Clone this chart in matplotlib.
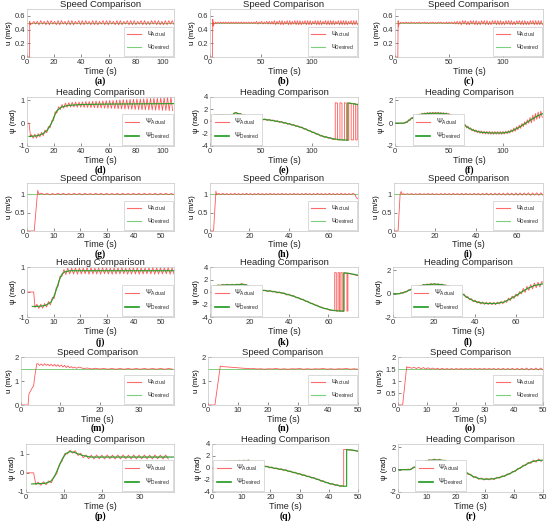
import numpy as np
import matplotlib.pyplot as plt
from matplotlib.lines import Line2D
from matplotlib.ticker import FormatStrFormatter

plt.rcParams['font.family'] = ['Liberation Sans', 'DejaVu Sans']
plt.rcParams['mathtext.fontset'] = 'custom'
plt.rcParams['mathtext.rm'] = 'Liberation Sans'
plt.rcParams['axes.unicode_minus'] = False

W, H = 550, 522
RED = '#ff3a3a'
GREEN = '#1e9a1e'
LGREEN = '#7ccf7c'


def ripple(t0, t1, first, second):
    # alternate peak / trough readings between t0 and t1
    n = min(len(first), len(second))
    y = np.empty(2 * n)
    y[0::2] = first[:n]
    y[1::2] = second[:n]
    return np.linspace(t0, t1, 2 * n), y


def join(*parts):
    t = np.concatenate([np.asarray(p[0], float) for p in parts])
    y = np.concatenate([np.asarray(p[1], float) for p in parts])
    return t, y


# ---------------- row 1 : speed ----------------
a_t = [0, 1.9, 2.0, 2.4, 2.9, 3.6, 4.3]
a_u = [0, 0, 0.52, 0.47, 0.49, 0.48, 0.50]
a_hi = [0.52, 0.52, 0.53, 0.52, 0.53, 0.53, 0.52, 0.53, 0.53, 0.52,
        0.53, 0.53, 0.52, 0.53, 0.53, 0.53, 0.52, 0.53, 0.53, 0.52,
        0.53, 0.53, 0.53, 0.52, 0.53, 0.53, 0.52, 0.53, 0.53, 0.53,
        0.52, 0.53, 0.53, 0.52, 0.53, 0.53, 0.53, 0.52, 0.53, 0.53, 0.53]
a_lo = [0.48, 0.47, 0.48, 0.47, 0.47, 0.48, 0.47, 0.47, 0.48, 0.47,
        0.47, 0.47, 0.48, 0.47, 0.47, 0.48, 0.47, 0.47, 0.47, 0.48,
        0.47, 0.47, 0.48, 0.47, 0.47, 0.47, 0.48, 0.47, 0.47, 0.47,
        0.48, 0.47, 0.47, 0.47, 0.48, 0.47, 0.47, 0.47, 0.47, 0.48, 0.47]
a_td = [0, 108]
a_ud = [0.5, 0.5]

b_t = [0, 2.4, 2.7, 3.1, 3.5, 4.2, 5.0]
b_u = [0, 0, 0.55, 0.45, 0.50, 0.48, 0.49]
b_hi = [0.51, 0.51, 0.51, 0.51, 0.51, 0.51, 0.51, 0.51, 0.51, 0.51, 0.51,
        0.51, 0.51, 0.51, 0.51, 0.51, 0.52, 0.51, 0.52, 0.51, 0.52, 0.52,
        0.52, 0.53, 0.52, 0.53, 0.53, 0.52, 0.53, 0.53, 0.52, 0.53, 0.53,
        0.53, 0.52, 0.53, 0.53, 0.53, 0.52, 0.53, 0.53, 0.53, 0.52, 0.53,
        0.53, 0.53, 0.53, 0.52, 0.53, 0.53, 0.53, 0.53, 0.52, 0.53, 0.53, 0.53]
b_lo = [0.49, 0.49, 0.49, 0.49, 0.49, 0.49, 0.49, 0.49, 0.49, 0.49, 0.49,
        0.49, 0.49, 0.49, 0.49, 0.49, 0.48, 0.49, 0.48, 0.49, 0.48, 0.48,
        0.48, 0.47, 0.48, 0.47, 0.47, 0.48, 0.47, 0.47, 0.48, 0.47, 0.47,
        0.47, 0.48, 0.47, 0.47, 0.47, 0.48, 0.47, 0.47, 0.47, 0.48, 0.47,
        0.47, 0.47, 0.47, 0.48, 0.47, 0.47, 0.47, 0.47, 0.48, 0.47, 0.47, 0.47]
b_td = [0, 145]
b_ud = [0.5, 0.5]

c_t = [0, 2.6, 2.9, 3.2, 3.6, 4.3]
c_u = [0, 0, 0.53, 0.44, 0.49, 0.48]
c_hi = [0.505, 0.505, 0.51, 0.505, 0.51, 0.505, 0.505, 0.51, 0.505, 0.51, 0.505,
        0.505, 0.51, 0.505, 0.51, 0.51, 0.505, 0.51, 0.51, 0.51, 0.515, 0.52,
        0.52, 0.53, 0.53, 0.52, 0.53, 0.53, 0.53, 0.52, 0.53, 0.53, 0.53,
        0.52, 0.53, 0.53, 0.53, 0.53, 0.52, 0.53, 0.53, 0.53, 0.52, 0.53,
        0.53, 0.53, 0.53, 0.52, 0.53, 0.53, 0.53, 0.53, 0.53]
c_lo = [0.495, 0.49, 0.495, 0.49, 0.495, 0.49, 0.495, 0.49, 0.495, 0.49, 0.49,
        0.495, 0.49, 0.49, 0.495, 0.49, 0.49, 0.485, 0.49, 0.485, 0.48, 0.48,
        0.47, 0.48, 0.47, 0.47, 0.48, 0.47, 0.47, 0.47, 0.48, 0.47, 0.47,
        0.47, 0.48, 0.47, 0.47, 0.47, 0.47, 0.48, 0.47, 0.47, 0.47, 0.48,
        0.47, 0.47, 0.47, 0.47, 0.48, 0.47, 0.47, 0.47, 0.47]
c_td = [0, 137]
c_ud = [0.5, 0.5]

# ---------------- row 2 : heading ----------------
d_t = [0, 1.5, 2.6]
d_y = [0, 0, -0.6]
d_hi = [-0.5, -0.48, -0.46, -0.4, -0.3, -0.15, 0.1, 0.5, 0.72, 0.82, 0.88, 0.9, 0.92,
        0.93, 0.93, 0.94, 0.95, 0.95, 0.96, 0.97, 0.97, 0.98, 0.99, 1.0, 1.0, 1.01,
        1.02, 1.03, 1.03, 1.04, 1.05, 1.06, 1.06, 1.07, 1.08, 1.09, 1.1, 1.1, 1.11,
        1.12, 1.13, 1.15]
d_lo = [-0.66, -0.65, -0.6, -0.55, -0.42, -0.2, 0.12, 0.45, 0.6, 0.66, 0.7, 0.71, 0.71,
        0.7, 0.7, 0.69, 0.69, 0.68, 0.68, 0.67, 0.67, 0.66, 0.65, 0.65, 0.64, 0.63,
        0.63, 0.62, 0.62, 0.61, 0.6, 0.6, 0.59, 0.59, 0.58, 0.58, 0.57, 0.57, 0.56,
        0.56, 0.55, 0.55]
d_td = [1.5, 8, 12, 15, 18, 20, 22, 25, 30, 40, 60, 108]
d_yd = [-0.58, -0.55, -0.45, -0.3, 0.0, 0.3, 0.55, 0.7, 0.78, 0.82, 0.84, 0.86]

e_t = [0, 1.0, 4.0, 8, 14, 20, 22.5, 24]
e_y = [0, 0, 1.0, 1.1, 1.05, 1.0, 1.1, 1.38]
e_hi = [1.48, 1.32, 1.12, 0.92, 0.76, 0.64, 0.52, 0.44, 0.36, 0.26, 0.14, 0.02,
        -0.14, -0.3, -0.48, -0.68, -0.88, -1.16, -1.44, -1.72, -2.0, -2.28, -2.44, -2.6]
e_lo = [1.16, 0.98, 0.78, 0.58, 0.46, 0.34, 0.24, 0.16, 0.08, -0.04, -0.16, -0.3,
        -0.46, -0.62, -0.82, -1.02, -1.26, -1.54, -1.82, -2.1, -2.38, -2.6, -2.76, -2.92]
e_tf = [121.0, 122.7, 122.7, 125.0, 125.0, 127.3, 127.3, 129.3, 129.3, 131.7, 131.7, 133.7,
        133.7, 136.0, 136.0, 138.3, 138.3, 140.7, 140.7, 142.7, 142.7, 144.3, 144.3, 145.0]
e_yf = [-2.95, -2.95, 3.05, 3.0, -3.0, -3.0, 3.05, 3.0, -3.0, -3.02, 3.05, 3.0,
        -3.05, -3.05, 3.0, 2.95, -3.0, -3.0, 2.95, 2.9, -3.0, -3.0, 2.85, 2.8]
e_td = [2, 5, 22, 23.5, 25, 30, 40, 50, 60, 70, 80, 90, 100, 110, 120, 128, 135, 135, 140, 145]
e_yd = [0.9, 1.05, 1.0, 1.35, 1.4, 1.2, 0.7, 0.4, 0.2, -0.1, -0.5, -1.0, -1.7, -2.4, -2.8,
        -3.0, -3.05, 3.05, 2.9, 2.75]

f_t = [0, 8.5]
f_y = [0, 0.02]
f_hi = [0.13, 0.30, 0.48, 0.61, 0.73, 0.81, 0.88, 0.91, 0.94, 0.95, 0.96, 0.96, 0.96,
        0.94, 0.93, 0.91, 0.86, 0.77, 0.61, 0.44, 0.25, 0.06, -0.11, -0.26, -0.4, -0.52,
        -0.59, -0.66, -0.68, -0.7, -0.71, -0.72, -0.73, -0.73, -0.73, -0.73, -0.72, -0.7,
        -0.66, -0.57, -0.42, -0.3, -0.17, -0.02, 0.13, 0.3, 0.5, 0.7, 0.85, 0.98, 1.06]
f_lo = [0.05, 0.23, 0.39, 0.51, 0.61, 0.68, 0.74, 0.77, 0.79, 0.8, 0.8, 0.8, 0.79,
        0.78, 0.76, 0.72, 0.62, 0.5, 0.33, 0.14, -0.04, -0.21, -0.41, -0.53, -0.67, -0.76,
        -0.83, -0.88, -0.93, -0.95, -0.96, -0.97, -0.97, -0.97, -0.97, -0.97, -0.95, -0.92,
        -0.86, -0.77, -0.72, -0.59, -0.45, -0.31, -0.15, 0.0, 0.03, 0.18, 0.34, 0.42, 0.51]
f_td = [0, 8, 10, 12, 15, 18, 20, 25, 30, 40, 48, 52, 56, 60, 64, 68, 72, 76, 80, 90,
        100, 105, 110, 115, 120, 125, 130, 137]
f_yd = [0, 0, 0.05, 0.18, 0.4, 0.56, 0.65, 0.8, 0.86, 0.88, 0.82, 0.7, 0.45, 0.15, -0.15,
        -0.4, -0.6, -0.72, -0.8, -0.86, -0.85, -0.78, -0.6, -0.35, -0.05, 0.25, 0.55, 0.85]

# ---------------- row 3 : speed ----------------
g_t = [0, 2.7, 4.0, 4.5, 5.0]
g_u = [0, 0, 1.1, 0.99, 1.02]
g_hi = [1.02, 1.02, 1.015, 1.02, 1.02, 1.015, 1.02, 1.02, 1.02, 1.015, 1.02, 1.02, 1.02,
        1.015, 1.02, 1.02, 1.015, 1.02, 1.02, 1.02, 1.015, 1.02, 1.02, 1.02, 1.015]
g_lo = [0.985, 0.98, 0.985, 0.985, 0.98, 0.985, 0.985, 0.98, 0.985, 0.985, 0.985, 0.98,
        0.985, 0.985, 0.98, 0.985, 0.985, 0.985, 0.98, 0.985, 0.985, 0.98, 0.985, 0.985, 0.985]
g_td = [0, 55]
g_ud = [1.0, 1.0]

h_t = [0, 1.8, 3.0, 3.4, 4.0]
h_u = [0, 0, 1.08, 0.98, 1.01]
h_hi = [1.015, 1.02, 1.015, 1.015, 1.02, 1.015, 1.015, 1.02, 1.015, 1.015, 1.02, 1.015,
        1.015, 1.02, 1.015, 1.015, 1.02, 1.015, 1.015, 1.02, 1.015, 1.015, 1.02, 1.015,
        1.015, 1.02, 1.015, 1.015, 1.02, 1.015, 1.015, 1.02, 1.015, 1.015, 1.02]
h_lo = [0.985, 0.985, 0.98, 0.985, 0.985, 0.98, 0.985, 0.985, 0.98, 0.985, 0.985, 0.98,
        0.985, 0.985, 0.98, 0.985, 0.985, 0.98, 0.985, 0.985, 0.98, 0.985, 0.985, 0.98,
        0.985, 0.985, 0.98, 0.985, 0.985, 0.98, 0.985, 0.985, 0.98, 0.985, 0.985]
h_t2 = [74.2, 75]
h_u2 = [0.9, 0.87]
h_td = [0, 75]
h_ud = [1.0, 1.0]

i_t = [0, 2.0, 3.0, 3.5, 4.0]
i_u = [0, 0, 1.0, 1.07, 0.99]
i_hi = [1.01, 1.01, 1.015, 1.01, 1.015, 1.01, 1.015, 1.015, 1.01, 1.015, 1.015, 1.015,
        1.02, 1.015, 1.02, 1.02, 1.015, 1.02, 1.02, 1.02, 1.025, 1.02, 1.025, 1.025,
        1.025, 1.03, 1.025, 1.03, 1.03, 1.03, 1.035, 1.03, 1.035, 1.035]
i_lo = [0.99, 0.99, 0.985, 0.99, 0.985, 0.99, 0.985, 0.985, 0.985, 0.985, 0.985, 0.98,
        0.985, 0.98, 0.98, 0.98, 0.98, 0.98, 0.975, 0.98, 0.975, 0.975, 0.975, 0.975,
        0.97, 0.975, 0.97, 0.97, 0.97, 0.97, 0.965, 0.97, 0.965, 0.965]
i_td = [0, 73]
i_ud = [1.0, 1.0]

# ---------------- row 4 : heading ----------------
j_t = [0, 2.5, 3.0]
j_y = [0, 0, -0.62]
j_hi = [-0.49, -0.49, -0.46, -0.38, -0.22, 0.17, 0.63, 0.9, 0.96,
        0.96, 0.97, 0.97, 0.96, 0.98, 0.97, 0.96, 0.97, 0.98, 0.97, 0.96, 0.97, 0.97, 0.98,
        0.96, 0.97, 0.97, 0.98, 0.97, 0.96, 0.97, 0.98, 0.97, 0.97, 0.96, 0.98, 0.97]
j_lo = [-0.66, -0.65, -0.6, -0.52, -0.25, 0.24, 0.63, 0.7, 0.72,
        0.72, 0.71, 0.72, 0.73, 0.71, 0.72, 0.72, 0.71, 0.73, 0.72, 0.71, 0.72, 0.72, 0.73,
        0.71, 0.72, 0.72, 0.71, 0.72, 0.73, 0.72, 0.71, 0.72, 0.72, 0.73, 0.71, 0.72]
j_td = [2, 5, 7, 8, 9, 10, 11, 12, 13, 14, 16, 20, 55]
j_yd = [-0.58, -0.57, -0.53, -0.47, -0.4, -0.2, 0.1, 0.45, 0.7, 0.8, 0.85, 0.85, 0.85]

k_t = [0, 2.0, 3.5]
k_y = [0, 0, 1.0]
k_hi = [1.15, 1.22, 1.25, 1.25, 1.28, 1.35, 1.2, 0.88, 0.62, 0.43, 0.3, 0.24, 0.14, 0.02,
        -0.14, -0.33, -0.58, -0.85, -1.15, -1.47, -1.81, -2.12, -2.43, -2.62]
k_lo = [0.98, 1.03, 1.05, 1.05, 1.09, 1.1, 0.92, 0.6, 0.39, 0.18, 0.06, -0.01, -0.18, -0.24,
        -0.5, -0.65, -0.93, -1.2, -1.5, -1.8, -2.1, -2.4, -2.68, -2.9]
k_tf = [62.0, 63.2, 63.2, 64.0, 64.0, 64.9, 64.9, 65.6, 65.6, 66.3, 66.3, 67.0, 67.0,
        67.9, 67.9, 69.4, 69.4, 69.9, 69.9, 72.0, 75.0]
k_yf = [-2.95, -3.0, 3.1, 3.1, -3.05, -3.05, 3.1, 3.1, -3.05, -3.05, 3.1, 3.1, -3.05,
        -3.05, 3.05, 3.0, -3.05, -3.05, 3.0, 2.85, 2.6]
k_td = [1.7, 4, 8, 12, 15, 16.5, 18, 21, 26, 31.5, 36.6, 41.7, 46.8, 51.9, 57, 62, 66,
        67.8, 67.8, 70, 75]
k_yd = [0.95, 1.05, 1.15, 1.15, 1.2, 1.25, 1.15, 0.75, 0.3, 0.1, -0.15, -0.6, -1.2, -1.9,
        -2.55, -2.93, -3.05, -3.07, 3.07, 3.0, 2.7]

l_t = [0, 3.0]
l_y = [0, 0]
l_hi = [0.11, 0.2, 0.34, 0.49, 0.62, 0.73, 0.81, 0.85, 0.88, 0.89, 0.86, 0.84, 0.77, 0.68,
        0.53, 0.39, 0.2, -0.02, -0.24, -0.42, -0.55, -0.65, -0.7, -0.73, -0.74, -0.74,
        -0.72, -0.66, -0.58, -0.37, -0.2, -0.02, 0.19, 0.46, 0.64, 0.79, 0.93, 0.99]
l_lo = [0.03, 0.15, 0.3, 0.44, 0.56, 0.65, 0.71, 0.74, 0.77, 0.76, 0.73, 0.69, 0.61, 0.49,
        0.29, 0.09, -0.11, -0.33, -0.53, -0.69, -0.8, -0.88, -0.92, -0.93, -0.94, -0.94,
        -0.89, -0.85, -0.75, -0.59, -0.41, -0.21, -0.01, 0.11, 0.29, 0.42, 0.52, 0.58]
l_t2 = [72.4, 73]
l_y2 = [1.05, 0.98]
l_td = [0, 3, 6, 9, 12, 15, 20, 24, 27, 30, 33, 36, 39, 42, 45, 50, 54, 57, 60, 63, 66, 69, 73]
l_yd = [0, 0, 0.15, 0.4, 0.62, 0.76, 0.83, 0.78, 0.65, 0.4, 0.08, -0.3, -0.6, -0.76, -0.83,
        -0.84, -0.72, -0.45, -0.15, 0.2, 0.5, 0.72, 0.85]

# ---------------- row 5 : speed ----------------
m_t = [0, 1.8, 2.0, 2.3, 2.8, 3.2, 3.5, 4.0]
m_u = [0, 0, 0.45, 0.55, 0.7, 0.8, 1.2, 1.72]
m_hi1 = [1.72, 1.71, 1.72, 1.7, 1.7, 1.69, 1.68, 1.67, 1.65, 1.63, 1.6, 1.58]
m_lo1 = [1.65, 1.64, 1.65, 1.63, 1.62, 1.61, 1.6, 1.58, 1.56, 1.55, 1.54, 1.53]
m_hi2 = [1.58, 1.54, 1.53, 1.52, 1.52, 1.52, 1.52, 1.52, 1.52, 1.52, 1.52, 1.52]
m_lo2 = [1.52, 1.5, 1.5, 1.49, 1.49, 1.49, 1.49, 1.49, 1.49, 1.49, 1.49, 1.49]
m_td = [0, 38.8]
m_ud = [1.5, 1.5]

n_t = [0, 2.3, 4.1, 5, 6, 8, 10, 12, 14.5]
n_u = [0, 0, 1.62, 1.6, 1.59, 1.57, 1.55, 1.53, 1.51]
n_hi = [1.52, 1.51, 1.51, 1.52, 1.51, 1.51, 1.52, 1.51, 1.51, 1.52, 1.51, 1.51, 1.52, 1.51]
n_lo = [1.5, 1.49, 1.5, 1.49, 1.49, 1.5, 1.49, 1.49, 1.5, 1.49, 1.49, 1.5, 1.49, 1.49]
n_td = [0, 50]
n_ud = [1.5, 1.5]

o_t = [0, 1.6, 3.0, 3.4]
o_u = [0, 0, 1.6, 1.55]
o_hi = [1.58, 1.57, 1.57, 1.56, 1.55, 1.54, 1.53, 1.53, 1.52, 1.52, 1.52, 1.52, 1.52, 1.52,
        1.52, 1.52, 1.52, 1.52, 1.52, 1.52, 1.53, 1.52, 1.53, 1.53, 1.53, 1.54, 1.53, 1.54, 1.54]
o_lo = [1.53, 1.52, 1.51, 1.5, 1.49, 1.49, 1.48, 1.48, 1.48, 1.48, 1.49, 1.49, 1.49, 1.49,
        1.49, 1.49, 1.49, 1.49, 1.48, 1.48, 1.48, 1.48, 1.47, 1.47, 1.47, 1.46, 1.47, 1.46, 1.46]
o_td = [0, 50]
o_ud = [1.5, 1.5]

# ---------------- row 6 : heading ----------------
p_t = [0, 2.0, 2.6]
p_y = [0, 0, -0.62]
p_hi = [-0.48, -0.47, -0.42, -0.18, 0.45, 1.0, 1.18, 1.15, 1.02, 0.93, 0.92, 0.93, 0.92,
        0.93, 0.92, 0.93, 0.93, 0.92, 0.93, 0.92, 0.93, 0.92, 0.93, 0.92, 0.93]
p_lo = [-0.65, -0.62, -0.52, -0.05, 0.6, 0.98, 1.02, 0.9, 0.78, 0.73, 0.72, 0.73, 0.72,
        0.73, 0.72, 0.72, 0.73, 0.72, 0.72, 0.73, 0.72, 0.72, 0.73, 0.72, 0.72]
p_td = [1.5, 5, 6.5, 7.5, 8.5, 9.5, 10.5, 11.5, 12.5, 13.5, 15, 17, 39]
p_yd = [-0.58, -0.55, -0.45, -0.2, 0.25, 0.7, 1.0, 1.1, 1.08, 1.0, 0.9, 0.82, 0.82]

q_t = [0, 3.3, 4.3]
q_y = [0, 0, 1.0]
q_hi = [1.2, 1.24, 1.27, 1.3, 1.34, 1.37, 1.0, 0.72, 0.49, 0.33, 0.18, 0.03, -0.11, -0.27,
        -0.48, -0.68, -0.89, -1.12, -1.34, -1.57, -1.84, -2.11, -2.38, -2.58, -2.76]
q_lo = [0.98, 1.01, 1.04, 1.08, 1.11, 0.93, 0.6, 0.35, 0.17, 0.01, -0.14, -0.28, -0.42,
        -0.62, -0.82, -1.03, -1.25, -1.47, -1.69, -1.92, -2.22, -2.48, -2.73, -2.91, -3.05]
q_tf = [44.5, 45.1, 45.1, 46.5, 48, 50]
q_yf = [-2.95, -3.05, 3.1, 3.05, 2.95, 2.8]
q_td = [2, 5, 8, 12.5, 13.5, 15, 17, 20, 25, 30, 35, 40, 44, 46.1, 46.1, 48, 50]
q_yd = [1.0, 1.1, 1.15, 1.25, 1.0, 0.7, 0.4, 0.1, -0.35, -1.0, -1.7, -2.55, -3.0, -3.05,
        3.05, 3.0, 2.8]

r_t = [0, 3.0]
r_y = [0, 0]
r_hi = [0.06, 0.24, 0.52, 0.77, 0.91, 0.96, 0.94, 0.87, 0.77, 0.54, 0.22, -0.11, -0.41,
        -0.62, -0.74, -0.77, -0.75, -0.67, -0.55, -0.37, -0.14, 0.12, 0.4, 0.66, 0.86, 0.96]
r_lo = [-0.02, 0.21, 0.5, 0.69, 0.79, 0.79, 0.77, 0.66, 0.52, 0.23, -0.1, -0.44, -0.7,
        -0.86, -0.93, -0.92, -0.89, -0.77, -0.62, -0.4, -0.18, 0.11, 0.37, 0.56, 0.67, 0.72]
r_td = [0, 4, 6, 8, 10, 12, 15, 18, 20, 22, 24, 26, 28, 30, 33, 36, 38, 40, 42, 44, 46, 48, 50]
r_yd = [0, 0, 0.25, 0.6, 0.8, 0.88, 0.86, 0.68, 0.42, 0.05, -0.32, -0.62, -0.8, -0.86,
        -0.82, -0.62, -0.42, -0.16, 0.15, 0.45, 0.7, 0.82, 0.85]

# ---------------- assemble actual traces ----------------
act = {
    'a': join((a_t, a_u), ripple(5, 108, a_hi, a_lo)),
    'b': join((b_t, b_u), ripple(5.5, 144.5, b_hi, b_lo)),
    'c': join((c_t, c_u), ripple(5, 136.5, c_hi, c_lo)),
    'd': join((d_t, d_y), ripple(3.2, 107, d_hi, d_lo)),
    'e': join((e_t, e_y), ripple(26, 120, e_hi, e_lo), (e_tf, e_yf)),
    'f': join((f_t, f_y), ripple(10, 136.25, f_hi, f_lo)),
    'g': join((g_t, g_u), ripple(5.5, 55, g_hi, g_lo)),
    'h': join((h_t, h_u), ripple(4.5, 73.5, h_hi, h_lo), (h_t2, h_u2)),
    'i': join((i_t, i_u), ripple(4.5, 73, i_hi, i_lo)),
    'j': join((j_t, j_y), ripple(3.7, 55, j_hi, j_lo)),
    'k': join((k_t, k_y), ripple(4, 60.4, k_hi, k_lo), (k_tf, k_yf)),
    'l': join((l_t, l_y), ripple(4, 71.5, l_hi, l_lo), (l_t2, l_y2)),
    'm': join((m_t, m_u), ripple(4.3, 14.0, m_hi1, m_lo1), ripple(14.8, 38.5, m_hi2, m_lo2)),
    'n': join((n_t, n_u), ripple(15, 50, n_hi, n_lo)),
    'o': join((o_t, o_u), ripple(3.9, 50, o_hi, o_lo)),
    'p': join((p_t, p_y), ripple(3.2, 37.5, p_hi, p_lo)),
    'q': join((q_t, q_y), ripple(4.5, 43.7, q_hi, q_lo), (q_tf, q_yf)),
    'r': join((r_t, r_y), ripple(3.5, 49.4, r_hi, r_lo)),
}
des = {
    'a': (a_td, a_ud), 'b': (b_td, b_ud), 'c': (c_td, c_ud),
    'd': (d_td, d_yd), 'e': (e_td, e_yd), 'f': (f_td, f_yd),
    'g': (g_td, g_ud), 'h': (h_td, h_ud), 'i': (i_td, i_ud),
    'j': (j_td, j_yd), 'k': (k_td, k_yd), 'l': (l_td, l_yd),
    'm': (m_td, m_ud), 'n': (n_td, n_ud), 'o': (o_td, o_ud),
    'p': (p_td, p_yd), 'q': (q_td, q_yd), 'r': (r_td, r_yd),
}

# layout (pixels): row tops/bottoms, column left/right per row
rows = [(9, 57), (97, 146), (183, 231), (267, 317), (357, 405), (444, 492)]
lefts = [(27, 210, 395), (27, 210, 395), (27, 210, 394),
         (27, 210, 393), (21, 208, 398), (26, 212, 398)]
rights = (174, 358, 543)
letter_gap = [24, 24, 23, 25.5, 23, 24.5]
xlab_pad = [0.5, 0.5, 0.0, 0.5, 0.5, 0.5]

xlims = {'a': 108, 'd': 108, 'b': 145, 'e': 145, 'c': 137, 'f': 137,
         'g': 55, 'j': 55, 'h': 75, 'k': 75, 'i': 73, 'l': 73,
         'm': 38.8, 'p': 39, 'n': 50, 'q': 50, 'o': 50, 'r': 50}
xticks = {'a': range(0, 101, 20), 'd': range(0, 101, 20),
          'b': [0, 50, 100], 'e': [0, 50, 100], 'c': [0, 50, 100], 'f': [0, 50, 100],
          'g': range(0, 51, 10), 'j': range(0, 51, 10),
          'h': [0, 20, 40, 60], 'k': [0, 20, 40, 60], 'i': [0, 20, 40, 60], 'l': [0, 20, 40, 60],
          'm': [0, 10, 20, 30], 'p': [0, 10, 20, 30],
          'n': range(0, 51, 10), 'q': range(0, 51, 10), 'o': range(0, 51, 10), 'r': range(0, 51, 10)}
ylims = {'a': (0, 0.7), 'b': (0, 0.7), 'c': (0, 0.7),
         'd': (-1, 1.15), 'e': (-4, 4), 'f': (-2, 2.3),
         'g': (0, 1.3), 'h': (0, 1.3), 'i': (0, 1.3),
         'j': (-1, 1), 'k': (-4, 4), 'l': (-2, 2.3),
         'm': (0, 2), 'n': (0, 2), 'o': (0, 2),
         'p': (-1, 1.5), 'q': (-4, 4), 'r': (-2, 2.3)}
yticks = {'a': [0, 0.2, 0.4, 0.6], 'b': [0, 0.2, 0.4, 0.6], 'c': [0, 0.2, 0.4, 0.6],
          'd': [-1, 0, 1], 'e': [-4, -2, 0, 2, 4], 'f': [-2, 0, 2],
          'g': [0, 0.5, 1], 'h': [0, 0.5, 1], 'i': [0, 0.5, 1],
          'j': [-1, 0, 1], 'k': [-4, -2, 0, 2, 4], 'l': [-2, 0, 2],
          'm': [0, 1, 2], 'n': [0, 1, 2], 'o': [0, 0.5, 1, 1.5, 2],
          'p': [-1, 0, 1], 'q': [-4, -2, 0, 2, 4], 'r': [-2, 0, 2]}

letters = 'abcdefghijklmnopqr'

fig = plt.figure(figsize=(W / 100, H / 100), dpi=100)

for idx, key in enumerate(letters):
    row, col = divmod(idx, 3)
    top, bot = rows[row]
    left, right = lefts[row][col], rights[col]
    ax = fig.add_axes([left / W, 1 - bot / H, (right - left) / W, (bot - top) / H])
    speed = row % 2 == 0
    ta, ya = act[key]
    td, yd = des[key]
    if speed:
        ax.plot(td, yd, color=LGREEN, lw=0.7, zorder=2)
        ax.plot(ta, ya, color=RED, lw=0.6, alpha=0.85, zorder=3)
        ax.set_title('Speed Comparison', fontsize=6.8, pad=0.8, color='#222222')
        ax.set_ylabel('u (m/s)', fontsize=5.5, labelpad=1)
        labs = [r'u$_{\mathrm{Actual}}$', r'u$_{\mathrm{Desired}}$']
        gcol, glw = LGREEN, 0.8
    else:
        ax.plot(ta, ya, color=RED, lw=0.6, alpha=0.85, zorder=2)
        ax.plot(td, yd, color=GREEN, lw=0.9, alpha=0.9, zorder=3)
        ax.set_title('Heading Comparison', fontsize=6.8, pad=0.6, color='#222222')
        ax.set_ylabel('ψ (rad)', fontsize=5.5, labelpad=1)
        labs = ['Ψ$_{\\mathrm{Actual}}$', 'Ψ$_{\\mathrm{Desired}}$']
        gcol, glw = GREEN, 1.2
    ax.set_xlim(0, xlims[key])
    ax.set_ylim(*ylims[key])
    ax.set_xticks(list(xticks[key]))
    ax.set_yticks(yticks[key])
    ax.yaxis.set_major_formatter(FormatStrFormatter('%g'))
    ax.set_xlabel('Time (s)', fontsize=6.5, labelpad=xlab_pad[row], color='#222222')
    ax.tick_params(direction='in', length=2, width=0.4, labelsize=5.5, pad=1.5,
                   colors='#333333')
    for s in ax.spines.values():
        s.set_color('#c4c4c4')
        s.set_linewidth(0.5)

    handles = [Line2D([], [], color='#ff6a6a', lw=0.8), Line2D([], [], color=gcol, lw=glw)]
    if speed or col == 0:
        lg = ax.legend(handles, labs, loc='lower right', fontsize=5, borderaxespad=0.3)
    elif col == 1:
        lg = ax.legend(handles, labs, loc='lower left', fontsize=5, borderaxespad=0.3)
    else:
        lg = ax.legend(handles, labs, loc='lower left', bbox_to_anchor=(0.11, 0.0),
                       fontsize=5, borderaxespad=0.3)
    lg.get_frame().set_edgecolor('#cccccc')
    lg.get_frame().set_linewidth(0.5)
    lg.get_frame().set_boxstyle('square', pad=0.1)
    lg.get_frame().set_alpha(1)
    for txt in lg.get_texts():
        txt.set_color('#222222')

    cx = (left + right) / 2 / W
    fig.text(cx, 1 - (bot + letter_gap[row]) / H, '(%s)' % key, ha='center', va='center',
             fontsize=7, fontweight='bold', family='Liberation Serif')

fig.savefig('out.png', dpi=100)
